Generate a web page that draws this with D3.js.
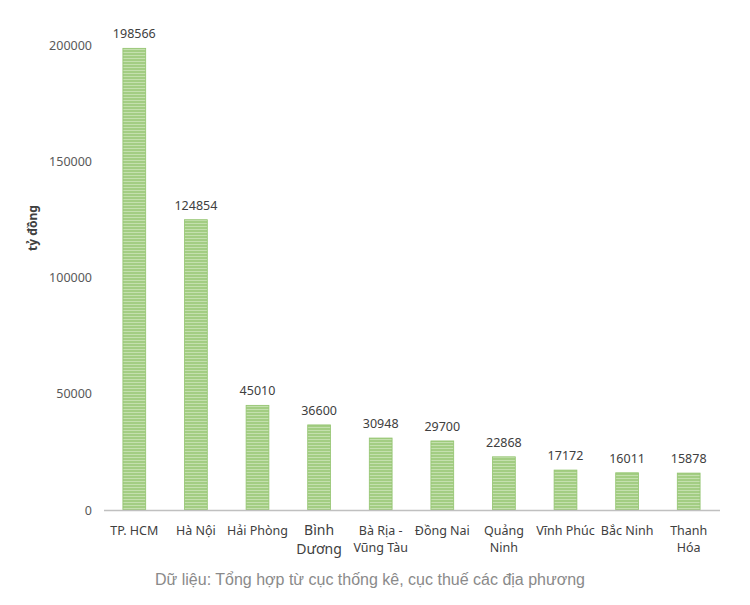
<!DOCTYPE html>
<html><head><meta charset="utf-8">
<script src="https://cdn.jsdelivr.net/npm/d3@7/dist/d3.min.js"></script>
<style>body{margin:0;background:#fff}svg{display:block}</style>
</head><body>
<svg id="c" width="750" height="605"></svg>
<script>
const categories = [["TP. HCM"],["Hà Nội"],["Hải Phòng"],["Bình","Dương"],["Bà Rịa -","Vũng Tàu"],["Đồng Nai"],["Quảng","Ninh"],["Vĩnh Phúc"],["Bắc Ninh"],["Thanh","Hóa"]];
const values = [198566,124854,45010,36600,30948,29700,22868,17172,16011,15878];
const yTicks = [0,50000,100000,150000,200000];
const yTitle = "tỷ đồng";
const caption = "Dữ liệu: Tổng hợp từ cục thống kê, cục thuế các địa phương";

const svg = d3.select("#c");
const font = "'Noto Sans', sans-serif";
const x = d3.scaleBand().domain(categories.map((d,i)=>i)).range([103.5,719.5]).paddingInner(0.63).paddingOuter(0.315);
const y = d3.scaleLinear().domain([0,200000]).range([510,45]);

const defs = svg.append("defs");
const pat = defs.append("pattern").attr("id","stripe").attr("patternUnits","userSpaceOnUse").attr("width",4).attr("height",3);
pat.append("rect").attr("width",4).attr("height",3).attr("fill","#a3cd83");
pat.append("rect").attr("y",1).attr("width",4).attr("height",1).attr("fill","#c4e0ae");

svg.append("g").selectAll("rect").data(values).join("rect")
  .attr("x",(d,i)=>x(i)).attr("width",x.bandwidth())
  .attr("y",d=>y(d)).attr("height",d=>y(0)-y(d))
  .attr("fill","url(#stripe)").attr("stroke","#93c46f").attr("stroke-width",0.8);

svg.append("g").selectAll("text").data(values).join("text")
  .attr("x",(d,i)=>x(i)+x.bandwidth()/2).attr("y",d=>y(d)-10)
  .attr("text-anchor","middle").attr("font-family",font).attr("font-size",12.5).attr("fill","#404040")
  .text(d=>d);

// x axis
const xAxis = svg.append("g").attr("transform","translate(0,510)")
  .call(d3.axisBottom(x).tickSize(0).tickFormat(""));
xAxis.select(".domain").attr("stroke","#c0c0c0").attr("stroke-width",1.5);
const lab = svg.append("g").selectAll("text").data(categories).join("text")
  .attr("text-anchor","middle").attr("font-family",font)
  .attr("font-size",(d,i)=>i===3?14:12.5).attr("fill","#404040")
  .attr("transform",(d,i)=>`translate(${x(i)+x.bandwidth()/2},${i===3?535:535})`);
lab.each(function(d,i){
  d3.select(this).selectAll("tspan").data(d).join("tspan").attr("x",0)
    .attr("dy",(t,j)=>j?(i===3?19:17):0).text(t=>t);
});

// y axis
const yAxis = svg.append("g").attr("transform","translate(92,0)")
  .call(d3.axisLeft(y).tickValues(yTicks).tickSize(0).tickPadding(0).tickFormat(d=>d));
yAxis.select(".domain").remove();
yAxis.selectAll("text").attr("font-family",font).attr("font-size",12.5).attr("fill","#595959");

svg.append("text").attr("transform","translate(37,228) rotate(-90)")
  .attr("text-anchor","middle").attr("font-family",font).attr("font-size",12).attr("font-weight","bold").attr("fill","#404040")
  .text(yTitle);

svg.append("text").attr("x",370).attr("y",585).attr("text-anchor","middle")
  .attr("font-family","'Liberation Sans', Arial, sans-serif").attr("font-size",16).attr("fill","#8a8a8a")
  .text(caption);
</script>
</body></html>
